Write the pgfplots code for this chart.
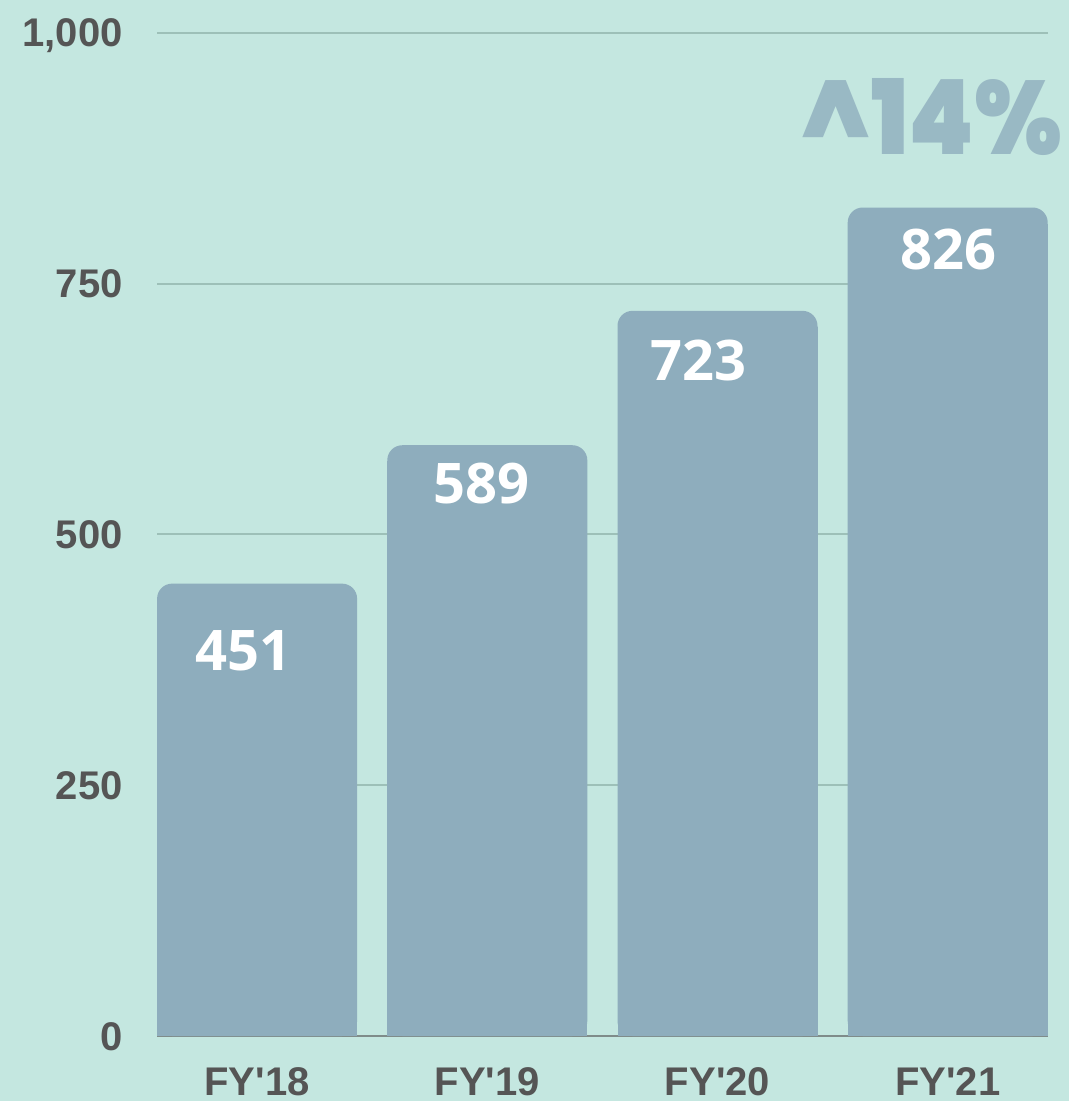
\documentclass[border=0pt]{standalone}
\usepackage{pgfplots}
\pgfplotsset{compat=1.18}
\usepackage{pgfplotstable}
\usepackage{fontspec}
\setmainfont{Liberation Sans}
\newfontfamily\valfont{Open Sans}
\newfontfamily\bigfont{Poppins Black}[FakeStretch=0.9]
\definecolor{bg}{HTML}{C4E7E0}
\definecolor{barc}{HTML}{8EADBD}
\definecolor{gridc}{HTML}{9DC0B8}
\definecolor{axisc}{HTML}{7F8C8A}
\definecolor{txt}{HTML}{555555}
\definecolor{pct}{HTML}{99B9C4}
\pagecolor{bg}
\pgfplotstableread{
x y lab dx dy
0 451 451 -7 -23
1 589 589 -3 -8.5
2 723 723 -9.5 -14.5
3 826 826 0.5 -10.5
}\datatable
\begin{document}
\begin{tikzpicture}
\path (-78.5pt,-32.5pt) rectangle (456pt,518pt);
\begin{axis}[
  set layers,
  clip mode=individual,
  at={(0pt,0pt)}, anchor=south west,
  scale only axis, width=445pt, height=501.5pt,
  xmin=-0.4348, xmax=3.4348, ymin=0, ymax=1000,
  axis x line*=bottom, axis y line*=left,
  x axis line style={draw=axisc, line width=1pt, -, on layer=axis foreground},
  y axis line style={draw=none},
  ymajorgrids, grid style={draw=gridc, line width=1pt},
  ytick={0,250,500,750,1000}, yticklabels={0,250,500,750,{1,000}},
  xtick={0,1,2,3},
  xticklabels={FY\textquotesingle18,FY\textquotesingle19,FY\textquotesingle20,FY\textquotesingle21},
  major tick length=0pt,
  tick label style={font=\bfseries\fontsize{20}{20}\selectfont, text=txt, inner sep=0pt},
  yticklabel style={anchor=base east, xshift=-17pt, yshift=-7pt},
  xticklabel style={anchor=north, yshift=-15.5pt},
]
\addplot[ycomb, draw=barc, line width=100pt, line cap=butt, mark=none, shorten >=8pt, restrict x to domain=0:0] table[x=x, y=y]{\datatable};
\addplot[ycomb, draw=barc, line width=100pt, line cap=butt, mark=none, shorten >=8pt, restrict x to domain=1:1] table[x=x, y=y]{\datatable};
\addplot[ycomb, draw=barc, line width=100pt, line cap=butt, mark=none, shorten >=8pt, restrict x to domain=2:2] table[x=x, y=y]{\datatable};
\addplot[ycomb, draw=barc, line width=100pt, line cap=butt, mark=none, shorten >=8pt, restrict x to domain=3:3] table[x=x, y=y]{\datatable};
\addplot[ybar, bar width=100pt, draw=none, fill=barc, rounded corners=7.5pt,
  point meta=explicit symbolic,
  visualization depends on={\thisrow{dx} \as \dx},
  visualization depends on={\thisrow{dy} \as \dy},
  nodes near coords,
  nodes near coords style={anchor=north, inner sep=0pt, text=white,
    font=\valfont\bfseries\fontsize{28}{28}\selectfont,
    xshift=\dx pt, yshift=\dy pt}]
  table[x=x, y=y, meta=lab]{\datatable};
\node[anchor=north east, inner sep=0pt, text=pct,
  font=\bigfont\fontsize{52}{52}\selectfont]
  at (rel axis cs:1.0168,0.955) {\textasciicircum 14\%};
\end{axis}
\end{tikzpicture}
\end{document}
